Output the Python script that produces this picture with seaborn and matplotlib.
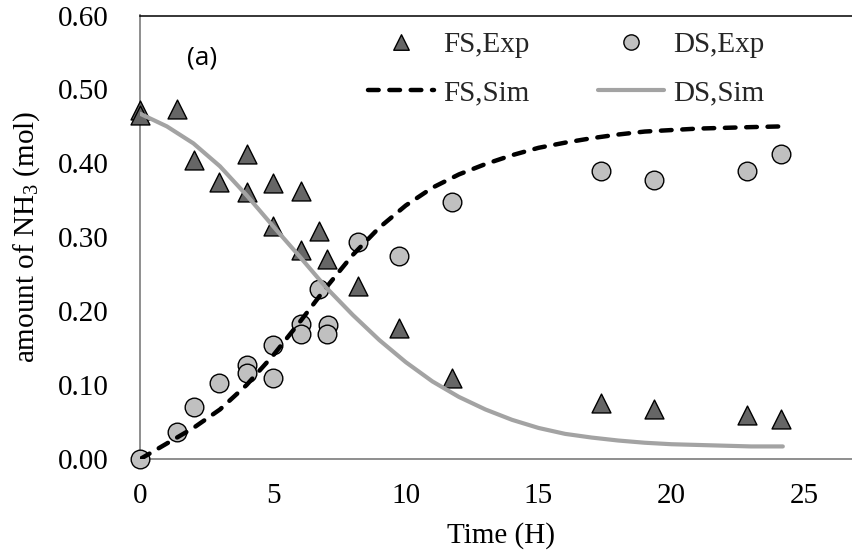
import matplotlib
matplotlib.use("Agg")
import matplotlib.pyplot as plt
import seaborn as sns

# Sampling times (h) and measured NH3 amounts (mol)
fs_exp_t = [0.0, 0.0, 1.4, 2.03, 2.98, 4.03, 4.01, 5.01, 5.01, 6.04, 6.05, 6.72, 7.04, 8.2,
            9.74, 11.74, 17.34, 19.35, 22.86, 24.14]
fs_exp_v = [0.472, 0.465, 0.474, 0.404, 0.375, 0.412, 0.361, 0.373, 0.315, 0.362, 0.283, 0.309,
            0.270, 0.234, 0.177, 0.109, 0.076, 0.067, 0.059, 0.054]

ds_exp_t = [0.0, 1.4, 2.03, 2.98, 4.03, 4.03, 5.01, 5.01, 6.05, 6.05, 6.72, 7.08, 7.04, 8.2,
            9.74, 11.74, 17.34, 19.35, 22.86, 24.14]
ds_exp_v = [0.0, 0.037, 0.071, 0.103, 0.127, 0.117, 0.154, 0.109, 0.183, 0.169, 0.230, 0.181,
            0.169, 0.293, 0.275, 0.348, 0.389, 0.377, 0.389, 0.413]

# Simulated profiles
sim_t = [0, 1, 2, 3, 4, 5, 6, 7, 8, 9, 10, 11, 12, 13, 14, 15, 16, 17, 18, 19, 20, 21, 22, 23, 24.2]
fs_sim = [0.000, 0.021, 0.042, 0.067, 0.100, 0.140, 0.185, 0.232, 0.276, 0.313, 0.343, 0.367,
          0.385, 0.399, 0.411, 0.421, 0.428, 0.434, 0.439, 0.443, 0.445, 0.447, 0.448, 0.449, 0.450]
ds_sim = [0.467, 0.450, 0.427, 0.396, 0.357, 0.315, 0.274, 0.232, 0.195, 0.161, 0.131, 0.105,
          0.084, 0.067, 0.053, 0.042, 0.034, 0.029, 0.025, 0.022, 0.020, 0.019, 0.018, 0.017, 0.017]

x_ticks = [0, 5, 10, 15, 20, 25]
y_ticks = [0.0, 0.1, 0.2, 0.3, 0.4, 0.5, 0.6]
legend_order = ["FS,Exp", "FS,Sim", "DS,Exp", "DS,Sim"]

sns.set_theme(style="white")
plt.rcParams["font.family"] = ["Liberation Serif", "DejaVu Serif"]
plt.rcParams["mathtext.fontset"] = "custom"
plt.rcParams["mathtext.rm"] = "Liberation Serif"
plt.rcParams["mathtext.it"] = "Liberation Serif:italic"

W, H = 853, 554
FS = 21
FS_PX = FS * 100 / 72
fig = plt.figure(figsize=(W / 100, H / 100), dpi=100)
left, right, top, bottom = 140.3, 853, 15.5, 459
ax = fig.add_axes([left / W, 1 - bottom / H, (right - left) / W, (bottom - top) / H])

sns.scatterplot(x=fs_exp_t, y=fs_exp_v, marker="^", s=185, color="#666666",
                edgecolor="black", linewidth=1.0, label="FS,Exp", ax=ax, zorder=3, clip_on=False)
sns.scatterplot(x=ds_exp_t, y=ds_exp_v, marker="o", s=180, color="#c0c0c0",
                edgecolor="black", linewidth=1.0, label="DS,Exp", ax=ax, zorder=3, clip_on=False)
sns.lineplot(x=sim_t, y=fs_sim, color="black", linewidth=3.2, linestyle=(0, (2.4, 2.4)),
             dash_capstyle="round", label="FS,Sim", ax=ax, zorder=4)
sns.lineplot(x=sim_t, y=ds_sim, color="#a3a3a3", linewidth=3.0, solid_capstyle="round",
             label="DS,Sim", ax=ax, zorder=5)

ax.set_xlim(0, (right - left) / 26.55)
ax.set_ylim(0, 0.6)
ax.set_xticks(x_ticks)
ax.set_yticks(y_ticks)
ax.set_xticklabels([str(v) for v in x_ticks])
ax.set_yticklabels([f"{v:.2f}" for v in y_ticks])
ax.tick_params(axis="both", length=0, labelsize=FS, labelcolor="black")
ax.tick_params(axis="y", pad=23)
ax.tick_params(axis="x", pad=17)

for side in ("left", "bottom"):
    ax.spines[side].set_color("#868686")
    ax.spines[side].set_linewidth(1.3)
ax.spines["top"].set_color("black")
ax.spines["top"].set_linewidth(1.1)
ax.spines["right"].set_visible(False)

ax.set_xlabel("Time (H)", fontsize=FS, color="black")
ax.set_ylabel("amount of NH$_3$ (mol)", fontsize=FS, color="black", labelpad=11)
ax.xaxis.set_label_coords((501 - left) / (right - left), -(536 - bottom) / (bottom - top))
ax.xaxis.label.set_va("center")

ax.text(201.7 / W, 1 - 58.3 / H, "(a)", transform=fig.transFigure, ha="center", va="center",
        fontsize=19, family=["Open Sans", "DejaVu Sans"], color="black")

handles, labels = ax.get_legend_handles_labels()
idx = [labels.index(n) for n in legend_order]
leg_handles = [handles[i] for i in idx]


def build_legend(spacing, colspace, ax_px, ay_px):
    return ax.legend(leg_handles, legend_order, ncol=2, loc="upper left",
                     bbox_to_anchor=(ax_px / W, 1 - ay_px / H), bbox_transform=fig.transFigure,
                     frameon=False, fontsize=FS, borderpad=0, borderaxespad=0,
                     handlelength=2.26, handletextpad=0.3, columnspacing=colspace,
                     labelspacing=spacing, markerscale=0.82, scatterpoints=1,
                     scatteryoffsets=[0.5])


# Place the legend rows/columns: first label at x=443, rows centred at y=45 and y=93,
# second column text starting at x=673 (pixel coordinates from the top-left corner).
spacing, colspace, lx, ly = 0.6, 2.2, 370.0, 30.0
for _ in range(4):
    leg = build_legend(spacing, colspace, lx, ly)
    fig.canvas.draw()
    tb = [t.get_window_extent() for t in leg.get_texts()]
    c1 = H - (tb[0].y0 + tb[0].y1) / 2
    c2 = H - (tb[1].y0 + tb[1].y1) / 2
    dx = 443 - tb[0].x0
    spacing += (48 - (c2 - c1)) / FS_PX
    colspace += (673 - (tb[2].x0 + dx)) / FS_PX
    lx += dx
    ly += 45 - c1
build_legend(spacing, colspace, lx, ly)

fig.savefig("out.png", dpi=100)
